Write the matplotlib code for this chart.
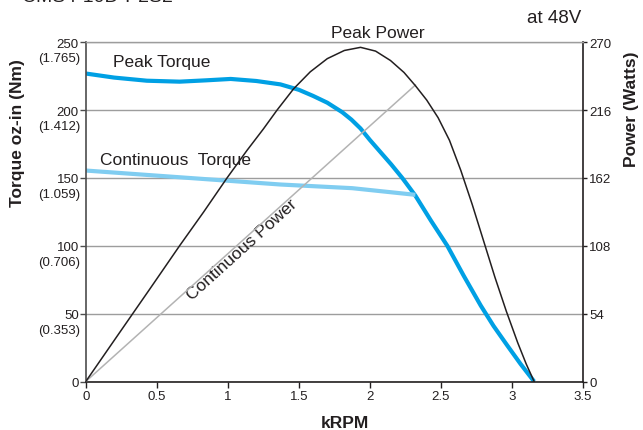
import matplotlib
matplotlib.use('Agg')
import matplotlib.pyplot as plt

plt.rcParams['font.family'] = ['Liberation Sans', 'DejaVu Sans']

# speed axis (kRPM) and curves
peak_torque_x = [0, 0.2, 0.43, 0.66, 0.85, 1.02, 1.2, 1.37, 1.5, 1.6, 1.7, 1.805, 1.87, 1.934,
                 2.0, 2.075, 2.15, 2.228, 2.32, 2.43, 2.545, 2.66, 2.78, 2.87, 2.968, 3.06, 3.156]
peak_torque = [227, 224, 221.7, 221, 222, 223, 221.5, 219, 215, 210.5, 205.5, 198.5, 193, 186.5,
               178, 169, 160, 150, 137, 118.5, 100, 78, 56, 41, 26.4, 13, 0]

cont_torque_x = [0, 1.37, 1.875, 2.32]
cont_torque = [155.5, 145.2, 142.5, 137.6]

peak_power_x = [0, 0.22, 0.453, 0.66, 0.83, 0.994, 1.135, 1.25, 1.346, 1.463, 1.58, 1.7,
                1.82, 1.934, 2.04, 2.145, 2.24, 2.32, 2.4, 2.48, 2.56, 2.64, 2.72, 2.8,
                2.88, 2.96, 3.04, 3.1, 3.156]
peak_power = [0, 36, 74, 108, 135, 162, 184, 201, 216, 233, 246.5, 257,
              263.5, 266, 263, 255.5, 246, 235.5, 224, 210, 192, 168, 141, 112,
              83, 56, 31, 14, 0]

cont_power_x = [0, 2.32]
cont_power = [0, 236]

x_ticks = [0, 0.5, 1, 1.5, 2, 2.5, 3, 3.5]
x_tick_labels = ['0', '0.5', '1', '1.5', '2', '2.5', '3', '3.5']
torque_ticks = [0, 50, 100, 150, 200, 250]
torque_nm = ['', '(0.353)', '(0.706)', '(1.059)', '(1.412)', '(1.765)']
power_ticks = [0, 54, 108, 162, 216, 270]

txt = '#231f20'
grid_c = '#9d9d9d'
blue = '#00a0e4'
light_blue = '#80cdf1'

fig = plt.figure(figsize=(6.43, 4.31), dpi=100)
ax = fig.add_axes([0.1334, 0.1125, 0.7733, 0.787])
ax.set_xlim(0, 3.5)
ax.set_ylim(0, 250)

ax.set_yticks(torque_ticks)
ax.set_yticklabels([str(t) for t in torque_ticks])
ax.set_xticks(x_ticks)
ax.set_xticklabels(x_tick_labels)
ax.yaxis.grid(True, color=grid_c, linewidth=1)
ax.set_axisbelow(True)
ax.tick_params(axis='y', direction='out', length=4, width=1, pad=1, labelsize=9.5,
               colors='#4d4d4d', labelcolor=txt)
ax.tick_params(axis='x', direction='out', length=4, width=1, pad=2, labelsize=9.5,
               colors='#231f20', labelcolor=txt)
for t, nm in zip(torque_ticks, torque_nm):
    if nm:
        ax.annotate(nm, xy=(0, t), xycoords=('axes fraction', 'data'),
                    xytext=(-3.8, -11.5), textcoords='offset points',
                    ha='right', va='center', fontsize=9.5, color=txt)

ax.spines['left'].set_color('#4d4d4d')
ax.spines['left'].set_linewidth(1.2)
ax.spines['bottom'].set_color('#231f20')
ax.spines['bottom'].set_linewidth(1.2)
ax.spines['top'].set_visible(False)
ax.spines['right'].set_visible(False)

ax.plot(peak_torque_x, peak_torque, color=blue, linewidth=3, solid_capstyle='butt',
        solid_joinstyle='round')
ax.plot(cont_torque_x, cont_torque, color=light_blue, linewidth=3, solid_capstyle='butt',
        solid_joinstyle='round')

ax2 = ax.twinx()
ax2.set_ylim(0, 270)
ax2.set_yticks(power_ticks)
ax2.set_yticklabels([str(p) for p in power_ticks])
ax2.tick_params(axis='y', direction='out', length=3, width=1, pad=1.5, labelsize=9.5,
                colors='#231f20', labelcolor=txt)
ax2.spines['right'].set_color('#231f20')
ax2.spines['right'].set_linewidth(1.2)
ax2.spines['top'].set_color(grid_c)
ax2.spines['top'].set_linewidth(1)
ax2.spines['left'].set_visible(False)
ax2.spines['bottom'].set_visible(False)

ax2.plot(cont_power_x, cont_power, color='#b3b3b3', linewidth=1.1)
ax2.plot(peak_power_x, peak_power, color='#231f20', linewidth=1.1, solid_joinstyle='round')

# curve labels
ax.text(0.192, 235.7, 'Peak Torque', ha='left', va='center', fontsize=12.5, color=txt)
ax.text(0.10, 163.4, 'Continuous  Torque', ha='left', va='center', fontsize=12.5, color=txt)
ax.text(2.054, 257.5, 'Peak Power', ha='center', va='center', fontsize=12.5, color=txt,
        clip_on=False)
ax.text(3.485, 268, 'at 48V', ha='right', va='center', fontsize=13.5, color=txt,
        clip_on=False)
ax.text(1.10, 97.6, 'Continuous Power', ha='center', va='center', fontsize=12.5,
        color=txt, rotation=42, rotation_mode='anchor')

# axis titles
fig.text(18 / 643, 1 - 133 / 431, 'Torque oz-in (Nm)', rotation=90, ha='center',
         va='center', fontsize=12.5, fontweight='bold', color=txt)
fig.text(631.7 / 643, 1 - 109 / 431, 'Power (Watts)', rotation=90, ha='center',
         va='center', fontsize=12.5, fontweight='bold', color=txt)
fig.text(345 / 643, 1 - 423.5 / 431, 'kRPM', ha='center', va='center', fontsize=12.5,
         fontweight='bold', color=txt)

# model name, cut off at the top edge in the reference
fig.text(22 / 643, 1 - 2 / 431, 'CMS4-10D-P2S2', ha='left', va='baseline', fontsize=14,
         color=txt)

fig.savefig('out.png', dpi=100)
